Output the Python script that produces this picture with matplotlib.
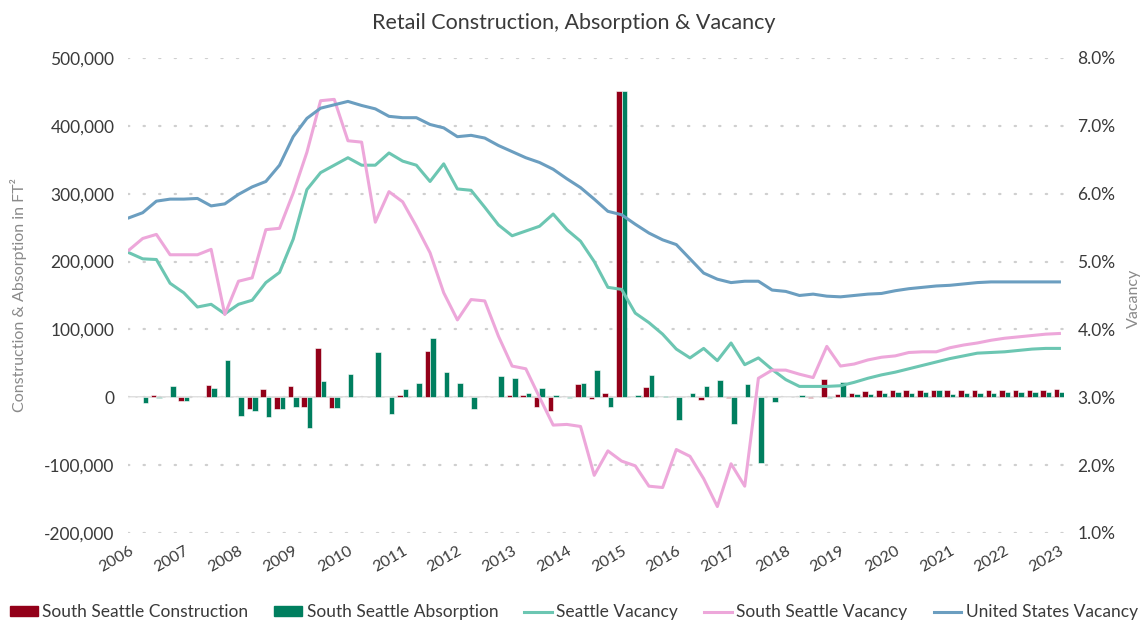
import matplotlib
matplotlib.use("Agg")
import matplotlib.pyplot as plt
from matplotlib.ticker import FuncFormatter
from matplotlib.patches import Patch
from matplotlib.lines import Line2D

plt.rcParams['font.family'] = ['Lato', 'DejaVu Sans']

# quarterly, 2006 Q1 .. 2023 Q1
years = [str(y) for y in range(2006, 2024)]

construction = [0, 0, 4, 1, -5, 1, 18.5, 0, 1, -17, 12, -18, 16, -15, 72, -16.5,
                0, 0, 0, 0, 4, 0, 68, 0, 0, 0, 0, 0, 3, 4, -14, -20,
                0, 19.5, -2, 7, 451, 0, 15.5, 0, 0, 1, -4, 0, -1, 0, 0, 0,
                0, 0, -1, 27, 5.5, 7, 9, 10, 10, 10, 10, 10, 10, 10, 10, 10,
                10, 10, 10, 10, 11.5]
absorption = [0, -8, -1.5, 17, -5, 1, 13, 54.6, -27, -19.5, -29, -18, -15, -45, 24, -16.5,
              34, 1, 67, -24, 12, 21.5, 88, 37, 21.5, -18, 1, 31, 28, 7, 13, 4,
              -1, 21.5, 40, -14, 451, 4, 33, 2, -34, 6, 17, 25, -40, 20, -97.5, -7,
              1, 3.5, 1, -1, 23, 5, 5.5, 7, 8, 7, 8, 10, 5.5, 7, 7, 7,
              8, 8, 8, 8, 8]
seattle_vac = [5.13, 5.04, 5.03, 4.68, 4.54, 4.33, 4.37, 4.23, 4.37, 4.43, 4.69, 4.84, 5.33, 6.06, 6.31, 6.42,
               6.53, 6.42, 6.42, 6.60, 6.48, 6.42, 6.18, 6.44, 6.07, 6.05, 5.80, 5.54, 5.38, 5.45, 5.52, 5.70,
               5.47, 5.30, 5.00, 4.62, 4.59, 4.24, 4.10, 3.93, 3.71, 3.58, 3.72, 3.54, 3.80, 3.48, 3.58, 3.41,
               3.26, 3.16, 3.16, 3.16, 3.17, 3.22, 3.28, 3.33, 3.37, 3.42, 3.47, 3.52, 3.57, 3.61, 3.65, 3.66,
               3.67, 3.69, 3.71, 3.72, 3.72]
south_vac = [5.17, 5.34, 5.40, 5.10, 5.10, 5.10, 5.18, 4.22, 4.71, 4.76, 5.47, 5.49, 6.01, 6.61, 7.37, 7.39,
             6.78, 6.76, 5.58, 6.03, 5.88, 5.52, 5.13, 4.54, 4.14, 4.44, 4.42, 3.90, 3.46, 3.42, 3.00, 2.59,
             2.60, 2.57, 1.85, 2.21, 2.06, 1.99, 1.69, 1.67, 2.23, 2.13, 1.80, 1.39, 2.02, 1.69, 3.28, 3.40,
             3.40, 3.34, 3.29, 3.75, 3.46, 3.49, 3.55, 3.59, 3.61, 3.66, 3.67, 3.67, 3.73, 3.77, 3.80, 3.84,
             3.87, 3.89, 3.91, 3.93, 3.94]
us_vac = [5.645, 5.72, 5.89, 5.92, 5.92, 5.93, 5.82, 5.85, 5.99, 6.10, 6.18, 6.42, 6.84, 7.11, 7.26, 7.31,
          7.36, 7.30, 7.25, 7.14, 7.12, 7.12, 7.02, 6.97, 6.84, 6.86, 6.82, 6.71, 6.62, 6.53, 6.46, 6.36,
          6.22, 6.09, 5.92, 5.74, 5.69, 5.55, 5.42, 5.32, 5.25, 5.04, 4.83, 4.74, 4.69, 4.71, 4.71, 4.58,
          4.56, 4.50, 4.52, 4.49, 4.48, 4.50, 4.52, 4.53, 4.57, 4.60, 4.62, 4.64, 4.65, 4.67, 4.69, 4.70,
          4.70, 4.70, 4.70, 4.70, 4.70]

c_red = '#930019'
c_green = '#007F5F'
c_teal = '#6CC6B2'
c_pink = '#EDA7DA'
c_blue = '#6B9EC0'
txt = '#3A3A3A'

x = list(range(len(construction)))
bw = 0.4

fig = plt.figure(figsize=(11.48, 6.22), dpi=100)
ax = fig.add_axes([0.1118, 0.1431, 0.8146, 0.7637])

ax.bar([i - bw / 2 for i in x], [v * 1000 for v in construction], width=bw, color=c_red,
       edgecolor='white', linewidth=0.4, zorder=3)
ax.bar([i + bw / 2 for i in x], [v * 1000 for v in absorption], width=bw, color=c_green,
       edgecolor='white', linewidth=0.4, zorder=3)
ax.axhline(0, color='#D9D9D9', linewidth=1.2, zorder=2)

ax.set_ylim(-200000, 500000)
ax.set_yticks(range(-200000, 500001, 100000))
ax.yaxis.set_major_formatter(FuncFormatter(lambda v, p: f'{int(v):,}'))
ax.set_xlim(-0.05, 68.3)
ax.set_xticks(range(0, 69, 4))
ax.set_xticklabels(years, rotation=30, ha='right', rotation_mode='anchor')
ax.grid(axis='y', color='#CFCFCF', linestyle=(0, (0.6, 6.4)), linewidth=1.6,
        dash_capstyle='round', zorder=0)
ax.tick_params(axis='both', length=0, labelsize=12.5, colors=txt)
ax.tick_params(axis='x', labelsize=11.5, pad=8)
ax.tick_params(axis='y', pad=10)
for s in ax.spines.values():
    s.set_visible(False)

ax2 = ax.twinx()
ax2.plot(x, seattle_vac, color=c_teal, linewidth=2.2, zorder=4)
ax2.plot(x, south_vac, color=c_pink, linewidth=2.2, zorder=4)
ax2.plot(x, us_vac, color=c_blue, linewidth=2.2, zorder=4)
ax2.set_ylim(1, 8)
ax2.set_yticks(range(1, 9))
ax2.yaxis.set_major_formatter(FuncFormatter(lambda v, p: f'{v:.1f}%'))
ax2.tick_params(axis='y', length=0, labelsize=12.5, colors=txt, pad=10)
for s in ax2.spines.values():
    s.set_visible(False)

fig.text(0.5, 0.963, 'Retail Construction, Absorption & Vacancy', ha='center', va='center',
         fontsize=15.5, color=txt)
fig.text(0.016, 0.525, 'Construction & Absorption in FT²', rotation=90, ha='center',
         va='center', fontsize=11.5, color='#8A8A8A')
fig.text(0.988, 0.52, 'Vacancy', rotation=90, ha='center', va='center',
         fontsize=11.5, color='#8A8A8A')

handles = [Patch(color=c_red), Patch(color=c_green),
           Line2D([], [], color=c_teal, linewidth=2.2),
           Line2D([], [], color=c_pink, linewidth=2.2),
           Line2D([], [], color=c_blue, linewidth=2.2)]
labels = ['South Seattle Construction', 'South Seattle Absorption', 'Seattle Vacancy',
          'South Seattle Vacancy', 'United States Vacancy']
leg = fig.legend(handles, labels, loc='center', bbox_to_anchor=(0.5, 0.016), ncol=5,
                 frameon=False, fontsize=12.5, handlelength=1.6, handletextpad=0.25,
                 columnspacing=1.5, handleheight=0.45)
for t in leg.get_texts():
    t.set_color(txt)

fig.savefig('out.png', dpi=100)
